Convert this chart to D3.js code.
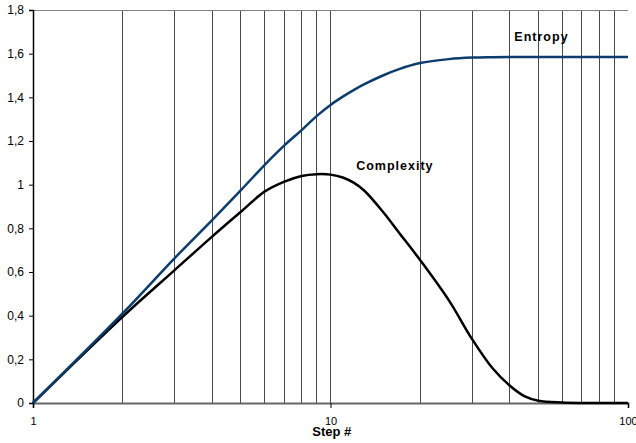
<!DOCTYPE html>
<html>
<head>
<meta charset="utf-8">
<script src="https://cdn.jsdelivr.net/npm/d3@7"></script>
<style>
  body { margin: 0; background: #fff; }
  svg { display: block; font-family: "Liberation Sans", Arial, sans-serif; }
</style>
</head>
<body>
<svg width="636" height="443"></svg>
<script>
// values
var steps      = [1, 2, 3, 4, 5, 6, 7, 8, 9, 10, 11, 12, 13, 15, 17, 20, 25, 30, 35, 40, 45, 50, 60, 70, 80, 90, 100];
var entropy    = [0, 0.41, 0.665, 0.838, 0.975, 1.09, 1.18, 1.25, 1.315, 1.365, 1.403, 1.434, 1.46, 1.5, 1.529, 1.557, 1.575, 1.582, 1.584, 1.585, 1.585, 1.585, 1.585, 1.585, 1.585, 1.585, 1.585];
var complexity = [0, 0.395, 0.61, 0.762, 0.876, 0.968, 1.014, 1.04, 1.048, 1.046, 1.033, 1.008, 0.972, 0.876, 0.78, 0.655, 0.47, 0.29, 0.16, 0.08, 0.03, 0.01, 0.002, 0, 0, 0, 0];
var gridSteps  = [2, 3, 4, 5, 6, 7, 8, 9, 10, 20, 30, 40, 50, 60, 70, 80, 90];
var xTickVals  = [1, 10, 100];
var yTickVals  = [0, 0.2, 0.4, 0.6, 0.8, 1, 1.2, 1.4, 1.6, 1.8];
var yTickText  = ["0", "0,2", "0,4", "0,6", "0,8", "1", "1,2", "1,4", "1,6", "1,8"];

var svg = d3.select("svg");
var margin = {top: 10, right: 8, bottom: 40, left: 33},
    width = +svg.attr("width") - margin.left - margin.right,
    height = +svg.attr("height") - margin.top - margin.bottom;

var x = d3.scaleLog().domain([1, 100]).range([0, width]),
    y = d3.scaleLinear().domain([0, 1.8]).range([height, 0]);

var g = svg.append("g")
    .attr("transform", "translate(" + margin.left + "," + margin.top + ")");

// vertical grid
g.append("g").attr("class", "grid")
    .selectAll("line")
    .data(gridSteps)
    .enter().append("line")
    .attr("x1", function (d) { return x(d); })
    .attr("x2", function (d) { return x(d); })
    .attr("y1", 0)
    .attr("y2", height)
    .attr("stroke", "#4a4a4a")
    .attr("stroke-width", 1)
    .attr("shape-rendering", "crispEdges");

// top border
g.append("line")
    .attr("x1", 0).attr("x2", width)
    .attr("y1", 0).attr("y2", 0)
    .attr("stroke", "#808080")
    .attr("shape-rendering", "crispEdges");

// x axis
var xAxis = g.append("g")
    .attr("transform", "translate(0," + height + ")")
    .call(d3.axisBottom(x).tickValues(xTickVals).tickSize(5).tickFormat(d3.format("d")));
xAxis.select(".domain").attr("stroke", "#666").attr("stroke-width", 2);
xAxis.selectAll(".tick line").attr("stroke", "#000");
xAxis.selectAll(".tick text")
    .attr("y", 14)
    .attr("font-size", "11px")
    .attr("font-family", "Liberation Sans, Arial, sans-serif")
    .attr("fill", "#000");

// y axis
var yAxis = g.append("g")
    .call(d3.axisLeft(y).tickValues(yTickVals).tickSize(4)
        .tickFormat(function (d, i) { return yTickText[i]; }));
yAxis.select(".domain").attr("stroke", "#000").attr("stroke-width", 1.5);
yAxis.selectAll(".tick line").attr("stroke", "#000");
yAxis.selectAll(".tick text")
    .attr("x", -9)
    .attr("font-size", "12px")
    .attr("font-family", "Liberation Sans, Arial, sans-serif")
    .attr("fill", "#000");

var line = function (vals) {
    return d3.line()
        .x(function (d, i) { return x(steps[i]); })
        .y(function (d) { return y(d); })
        .curve(d3.curveCatmullRom.alpha(0.5))(vals);
};

g.append("path")
    .attr("d", line(complexity))
    .attr("fill", "none")
    .attr("stroke", "#000")
    .attr("stroke-width", 2.5);

g.append("path")
    .attr("d", line(entropy))
    .attr("fill", "none")
    .attr("stroke", "#0c3d6d")
    .attr("stroke-width", 2.5);

// series labels
g.append("text")
    .attr("x", x(12.2)).attr("y", y(1.067))
    .attr("font-size", "12.5px").attr("font-weight", "bold")
    .attr("letter-spacing", "1px")
    .text("Complexity");

g.append("text")
    .attr("x", x(41.5)).attr("y", y(1.66))
    .attr("font-size", "12.5px").attr("font-weight", "bold")
    .attr("letter-spacing", "1px")
    .text("Entropy");

// axis title
svg.append("text")
    .attr("x", margin.left + x(10.1)).attr("y", 436)
    .attr("text-anchor", "middle")
    .attr("font-size", "13px").attr("font-weight", "bold")
    .text("Step #");
</script>
</body>
</html>
